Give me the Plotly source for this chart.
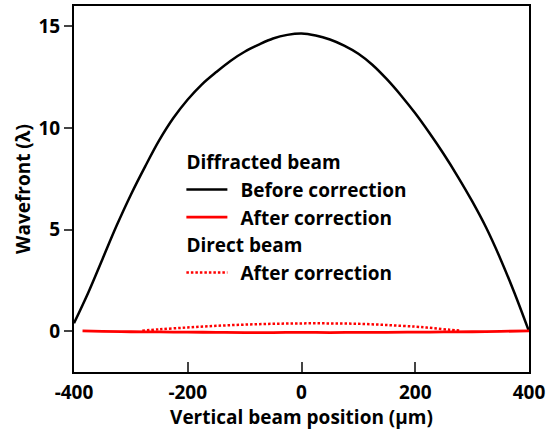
import plotly.graph_objects as go

# Diffracted beam, before correction (black), read every 25 µm
x_before = [-400, -375, -350, -325, -300, -275, -250, -225, -200, -175, -150, -125, -100, -75, -50, -25,
            0, 25, 50, 75, 100, 125, 150, 175, 200, 225, 250, 275, 300, 325, 350, 375, 400]
y_before = [0.4, 1.9, 3.55, 5.2, 6.72, 8.1, 9.4, 10.5, 11.4, 12.15, 12.75, 13.3, 13.75, 14.1, 14.4, 14.58,
            14.65, 14.55, 14.35, 14.05, 13.65, 13.1, 12.4, 11.6, 10.72, 9.75, 8.72, 7.6, 6.4, 5.08, 3.55, 1.85, 0.0]

# Diffracted beam, after correction (red solid)
x_after = [-385, -350, -300, -250, -200, -150, -100, -50, 0, 50, 100, 150, 200, 250, 300, 350, 400]
y_after = [0.02, 0.0, -0.02, -0.03, -0.04, -0.05, -0.06, -0.06, -0.05, -0.06, -0.05, -0.05, -0.04, -0.03, -0.02, 0.0, 0.02]

# Direct beam, after correction (red dotted)
x_direct = [-280, -250, -200, -150, -100, -50, 0, 50, 100, 150, 200, 230, 260, 280]
y_direct = [0.03, 0.1, 0.19, 0.27, 0.33, 0.37, 0.39, 0.39, 0.37, 0.31, 0.23, 0.16, 0.08, 0.03]

x_ticks = [-400, -200, 0, 200, 400]
x_labels = ["-400", "-200", "0", "200", "400"]
y_ticks = [0, 5, 10, 15]
y_labels = ["0", "5", "10", "15"]

FONT = "Open Sans"
LEG_FONT = dict(family=FONT, size=19, color="black", weight="bold")
TICK_FONT = dict(family=FONT, size=19, color="black", weight="bold")
TITLE_FONT = dict(family=FONT, size=19, color="black", weight="bold")
NB = "\u00a0\u2009"

fig = go.Figure()
fig.add_trace(go.Scatter(
    x=x_before, y=y_before, mode="lines", name=NB + "Before correction",
    line=dict(color="black", width=2.5, shape="spline"),
    legendgroup="diff", legendgrouptitle=dict(text="Diffracted beam", font=LEG_FONT),
))
fig.add_trace(go.Scatter(
    x=x_after, y=y_after, mode="lines", name=NB + "After correction",
    line=dict(color="#ff0000", width=2.8, shape="spline"),
    legendgroup="diff",
))
fig.add_trace(go.Scatter(
    x=x_direct, y=y_direct, mode="lines", name=NB + "After correction",
    line=dict(color="#ff0000", width=2.5, dash="2.5px,2px", shape="spline"),
    legendgroup="direct", legendgrouptitle=dict(text="Direct beam", font=LEG_FONT),
))

fig.update_layout(
    width=549, height=430,
    margin=dict(l=74, r=17, t=4, b=58),
    paper_bgcolor="white", plot_bgcolor="white",
    font=dict(family=FONT, size=18, color="black", weight="bold"),
    legend=dict(x=0.236, y=0.626, xanchor="left", yanchor="top", itemwidth=41,
                bgcolor="rgba(0,0,0,0)", tracegroupgap=0, font=LEG_FONT),
    xaxis=dict(range=[-400, 400], tickvals=x_ticks, ticktext=x_labels, ticks="inside", ticklen=10, tickwidth=2,
               showline=True, linewidth=2, linecolor="black", mirror=True, showgrid=False, zeroline=False,
               tickfont=TICK_FONT, ticklabelstandoff=2,
               title=dict(text="Vertical beam position (µm)", standoff=7, font=TITLE_FONT)),
    yaxis=dict(range=[-2, 16], tickvals=y_ticks, ticktext=y_labels, ticks="outside", ticklen=8, tickwidth=2,
               showline=True, linewidth=2, linecolor="black", mirror=True, showgrid=False, zeroline=False,
               tickfont=TICK_FONT,
               title=dict(text="Wavefront (λ)", standoff=3, font=TITLE_FONT)),
)

fig.write_html("out.html", config={"displayModeBar": False},
               post_script="document.body.style.margin='0px';")
